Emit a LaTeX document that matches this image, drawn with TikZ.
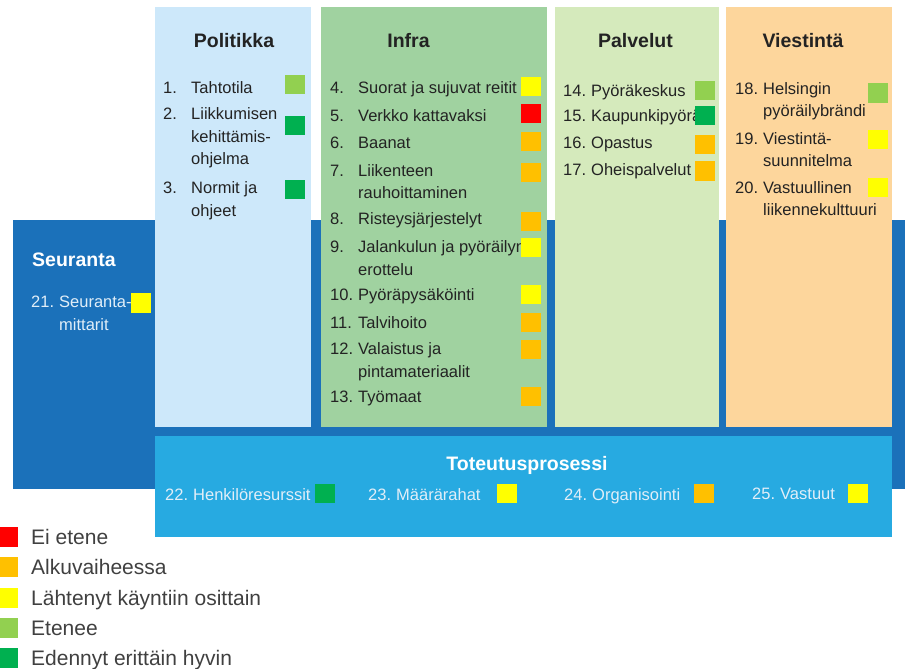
\documentclass[tikz,border=0pt]{standalone}
\usepackage{fontspec}
\setmainfont{Liberation Sans}
\usetikzlibrary{positioning}
\definecolor{tummasini}{RGB}{27,113,186}
\definecolor{vaaleasini}{RGB}{39,170,225}
\definecolor{politiikkac}{RGB}{205,232,250}
\definecolor{infrac}{RGB}{160,210,160}
\definecolor{palvelutc}{RGB}{213,234,188}
\definecolor{viestintac}{RGB}{253,214,156}
\definecolor{eietene}{RGB}{255,0,0}
\definecolor{alku}{RGB}{255,192,0}
\definecolor{lahtenyt}{RGB}{255,255,0}
\definecolor{etenee}{RGB}{146,208,80}
\definecolor{hyvin}{RGB}{0,176,80}
\definecolor{tekstic}{RGB}{35,35,35}
\definecolor{valkotekstic}{RGB}{225,238,248}
\definecolor{selitec}{RGB}{64,64,64}
\tikzset{paneeli/.style={inner sep=0, outer sep=0, anchor=north west}}
\tikzset{otsikko/.style={font=\bfseries\fontsize{19.5}{22}\selectfont, text=tekstic, inner sep=0, text height=14pt, text depth=0pt}}
\tikzset{kohta/.style={font=\fontsize{16.5}{22.5}\selectfont, text=tekstic, align=left, inner sep=0, anchor=north west}}
\tikzset{tila/.style={minimum width=20pt, minimum height=19.5pt, inner sep=0, outer sep=0, anchor=west}}
\tikzset{selite/.style={minimum width=18pt, minimum height=20pt, inner sep=0, outer sep=0, anchor=north west}}
\tikzset{selitet/.style={font=\fontsize{21}{24}\selectfont, text=selitec, inner sep=0, text height=15pt, text depth=0pt}}
% numero, teksti ja tilaneliö
\newcommand{\kohta}[8]{%
  \node[kohta] (k#1) at (#2,#3-5.9) {\makebox[28pt][l]{#4}#5};
  \node[tila, fill=#8] (t#1) at (#6,#7) {};
}
\newcommand{\rivi}{\\\hspace*{28pt}}
\begin{document}
\begin{tikzpicture}[x=1pt, y=-1pt]
\useasboundingbox (0,0) rectangle (905,669);
% taustat
\node[paneeli, fill=tummasini, minimum width=892pt, minimum height=269pt] (seuranta) at (13,220) {};
\node[paneeli, fill=politiikkac, minimum width=156pt, minimum height=419.5pt] (politiikka) at (155,7.5) {};
\node[paneeli, fill=infrac, minimum width=226pt, minimum height=419.5pt] (infra) at (321,7.5) {};
\node[paneeli, fill=palvelutc, minimum width=164pt, minimum height=419.5pt] (palvelut) at (555,7.5) {};
\node[paneeli, fill=viestintac, minimum width=166pt, minimum height=419.5pt] (viestinta) at (726,7.5) {};
\node[paneeli, fill=vaaleasini, minimum width=737pt, minimum height=101pt] (toteutus) at (155,436) {};
%
\node[otsikko] (politiikka-ots) at (234,41) {Politikka};
\node[otsikko] (infra-ots) at (408.5,41) {Infra};
\node[otsikko] (palvelut-ots) at (635.5,41) {Palvelut};
\node[otsikko] (viestinta-ots) at (803,41) {Viestintä};
\node[otsikko, text=white, anchor=west] (seuranta-ots) at (32,259) {Seuranta};
\node[otsikko, text=white] (toteutus-ots) at (527,463.5) {Toteutusprosessi};
% Politiikka
\kohta{1}{163}{87.5}{1.}{Tahtotila}{285}{84.5}{etenee}
\kohta{2}{163}{113.5}{2.}{Liikkumisen\rivi kehittämis-\rivi ohjelma}{285}{125.5}{hyvin}
\kohta{3}{163}{187.5}{3.}{Normit ja\rivi ohjeet}{285}{189.5}{hyvin}
% Infra
\kohta{4}{330}{87.5}{4.}{Suorat ja sujuvat reitit}{521}{86.5}{lahtenyt}
\kohta{5}{330}{115.5}{5.}{Verkko kattavaksi}{521}{113.5}{eietene}
\kohta{6}{330}{142.5}{6.}{Baanat}{521}{141.5}{alku}
\kohta{7}{330}{170}{7.}{Liikenteen\rivi rauhoittaminen}{521}{172.5}{alku}
\kohta{8}{330}{218.5}{8.}{Risteysjärjestelyt}{521}{221.5}{alku}
\kohta{9}{330}{246.5}{9.}{Jalankulun ja pyöräilyn\rivi erottelu}{521}{247.5}{lahtenyt}
\kohta{10}{330}{294.5}{10.}{Pyöräpysäköinti}{521}{294.5}{lahtenyt}
\kohta{11}{330}{322.5}{11.}{Talvihoito}{521}{322.5}{alku}
\kohta{12}{330}{348.5}{12.}{Valaistus ja\rivi pintamateriaalit}{521}{349.5}{alku}
\kohta{13}{330}{397}{13.}{Työmaat}{521}{396.5}{alku}
% Palvelut
\kohta{14}{563}{90}{14.}{Pyöräkeskus}{695}{90.5}{etenee}
\kohta{15}{563}{115}{15.}{Kaupunkipyörä}{695}{115.5}{hyvin}
\kohta{16}{563}{143}{16.}{Opastus}{695}{144.5}{alku}
\kohta{17}{563}{169}{17.}{Oheispalvelut}{695}{171}{alku}
% Viestintä
\kohta{18}{735}{88}{18.}{Helsingin\rivi pyöräilybrändi}{868}{93}{etenee}
\kohta{19}{735}{138}{19.}{Viestintä-\rivi suunnitelma}{868}{139.5}{lahtenyt}
\kohta{20}{735}{187}{20.}{Vastuullinen\rivi liikennekulttuuri}{868}{187.5}{lahtenyt}
% Seuranta ja toteutusprosessi
\begin{scope}[kohta/.append style={text=valkotekstic}]
\kohta{21}{31}{302}{21.}{Seuranta-\rivi mittarit}{131}{303}{lahtenyt}
\kohta{22}{165}{494}{22.}{Henkilöresurssit}{315}{493.5}{hyvin}
\kohta{23}{368}{494}{23.}{Määrärahat}{497}{493.5}{lahtenyt}
\kohta{24}{564}{494}{24.}{Organisointi}{694}{493.5}{alku}
\kohta{25}{752}{494}{25.}{Vastuut}{848}{493.5}{lahtenyt}
\end{scope}
% selite
\foreach \vari/\teksti [count=\i] in {eietene/Ei etene, alku/Alkuvaiheessa, lahtenyt/Lähtenyt käyntiin osittain, etenee/Etenee, hyvin/Edennyt erittäin hyvin}{
  \node[selite, fill=\vari] (s\i) at (0,496.75+30.25*\i) {};
  \node[selitet, right=13pt of s\i] (st\i) {\teksti};
}
\end{tikzpicture}
\end{document}
